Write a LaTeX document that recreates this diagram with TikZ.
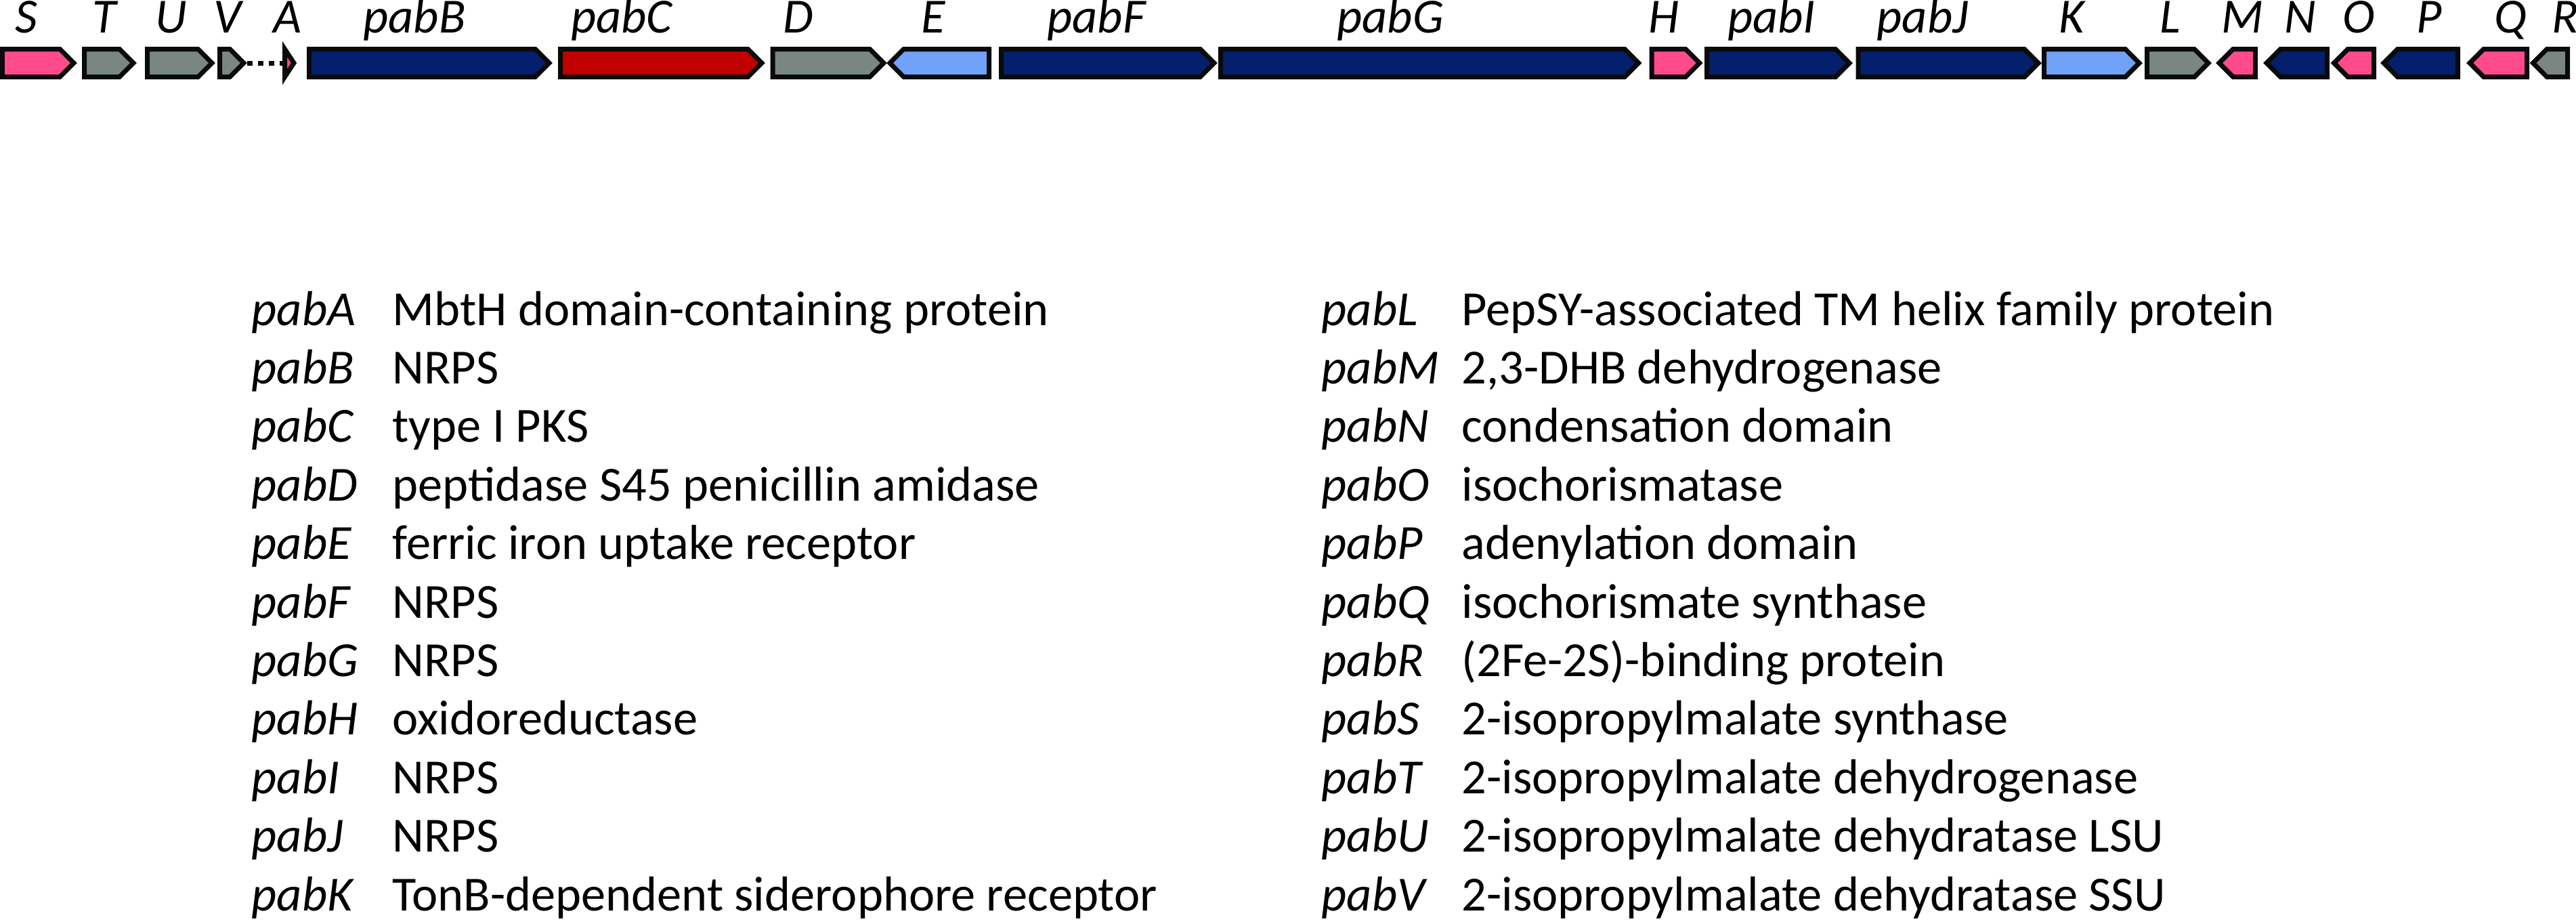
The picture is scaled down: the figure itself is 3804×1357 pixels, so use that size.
\documentclass[tikz,border=0pt]{standalone}
\usepackage{fontspec}
\setmainfont{Carlito}
\definecolor{gpink}{HTML}{FF4B8C}
\definecolor{ggray}{HTML}{7A8684}
\definecolor{gnavy}{HTML}{041F6B}
\definecolor{gred}{HTML}{C00000}
\definecolor{gblue}{HTML}{6FA2F8}
\definecolor{gline}{HTML}{0A0A0A}
\newcommand{\generight}[3]{%
  \pgfmathsetmacro{\gL}{#1+3.5}%
  \pgfmathsetmacro{\gT}{#2-5}%
  \pgfmathsetmacro{\gB}{\gT-20.5}%
  \draw[genebox, fill=#3] (\gL,72.5) -- (\gB,72.5) -- (\gT,93) -- (\gB,113.5) -- (\gL,113.5) -- cycle;%
}
\newcommand{\geneleft}[3]{%
  \pgfmathsetmacro{\gT}{#1+5}%
  \pgfmathsetmacro{\gR}{#2-3.5}%
  \pgfmathsetmacro{\gB}{\gT+20.5}%
  \draw[genebox, fill=#3] (\gR,72.5) -- (\gB,72.5) -- (\gT,93) -- (\gB,113.5) -- (\gR,113.5) -- cycle;%
}
\begin{document}
\begin{tikzpicture}[x=0.01cm, y=-0.01cm,
  genebox/.style={draw=gline, line width=1.99pt, line join=miter},
  dotline/.style={draw=gline, line width=1.99pt, dash pattern=on 2.28pt off 2.28pt},
  glabel/.style={anchor=base, inner sep=0pt, font=\fontsize{20.6pt}{24pt}\selectfont\itshape},
  gname/.style={anchor=base west, inner sep=0pt, font=\fontsize{20.6pt}{24pt}\selectfont\itshape},
  gdesc/.style={anchor=base west, inner sep=0pt, font=\fontsize{20.6pt}{24pt}\selectfont}]
\useasboundingbox (0,0) rectangle (3804,1357);
% genes
\generight{0}{114}{gpink}
\generight{121}{202}{ggray}
\generight{214}{318}{ggray}
\generight{321}{365}{ggray}
\coordinate (dotA) at (365,93);
\coordinate (dotB) at (417,93);
\draw[dotline] (dotA) -- (dotB);
\draw[genebox, fill=gpink] (420.5,72.5) -- (434,93) -- (420.5,113.5) -- cycle;
\generight{453}{816}{gnavy}
\generight{824}{1130}{gred}
\generight{1137.5}{1310}{ggray}
\geneleft{1309}{1464}{gblue}
\generight{1475}{1798}{gnavy}
\generight{1799}{2424.6}{gnavy}
\generight{2435.7}{2514.7}{gpink}
\generight{2517}{2736}{gnavy}
\generight{2740.6}{3015}{gnavy}
\generight{3015}{3164}{gblue}
\generight{3167}{3266}{ggray}
\geneleft{3272}{3334}{gpink}
\geneleft{3342}{3440}{gnavy}
\geneleft{3441.5}{3509}{gpink}
\geneleft{3515}{3633}{gnavy}
\geneleft{3642}{3735}{gpink}
\geneleft{3735.4}{3795}{ggray}
% gene labels
\node[glabel] (lS) at (39,48) {S};
\node[glabel] (lT) at (154,48) {T};
\node[glabel] (lU) at (253,48) {U};
\node[glabel] (lV) at (336,48) {V};
\node[glabel] (lA) at (424,48) {A};
\node[glabel] (lB) at (612,48) {pabB};
\node[glabel] (lC) at (918,48) {pabC};
\node[glabel] (lD) at (1179,48) {D};
\node[glabel] (lE) at (1378,48) {E};
\node[glabel] (lF) at (1619,48) {pabF};
\node[glabel] (lG) at (2053,48) {pabG};
\node[glabel] (lH) at (2457,48) {H};
\node[glabel] (lI) at (2616,48) {pabI};
\node[glabel] (lJ) at (2839,48) {pabJ};
\node[glabel] (lK) at (3059,48) {K};
\node[glabel] (lL) at (3205,48) {L};
\node[glabel] (lM) at (3311,48) {M};
\node[glabel] (lN) at (3397,48) {N};
\node[glabel] (lO) at (3483,48) {O};
\node[glabel] (lP) at (3587,48) {P};
\node[glabel] (lQ) at (3707,48) {Q};
\node[gname] (lR) at (3768,48) {R};
% legend left
\foreach \n/\d [count=\i from 0] in {A/MbtH domain-containing protein, B/NRPS, C/type I PKS, D/peptidase S45 penicillin amidase, E/ferric iron uptake receptor, F/NRPS, G/NRPS, H/oxidoreductase, I/NRPS, J/NRPS, K/TonB-dependent siderophore receptor}{
  \node[gname] (n\n) at (371,480+86.4*\i) {pab\n};
  \node[gdesc] (d\n) at (579,480+86.4*\i) {\d};
}
% legend right
\foreach \n/\d [count=\i from 0] in {L/PepSY-associated TM helix family protein, M/{2,3-DHB dehydrogenase}, N/condensation domain, O/isochorismatase, P/adenylation domain, Q/isochorismate synthase, R/(2Fe-2S)-binding protein, S/2-isopropylmalate synthase, T/2-isopropylmalate dehydrogenase, U/2-isopropylmalate dehydratase LSU, V/2-isopropylmalate dehydratase SSU}{
  \node[gname] (n\n) at (1951,480+86.4*\i) {pab\n};
  \node[gdesc] (d\n) at (2158,480+86.4*\i) {\d};
}
\end{tikzpicture}
\end{document}
